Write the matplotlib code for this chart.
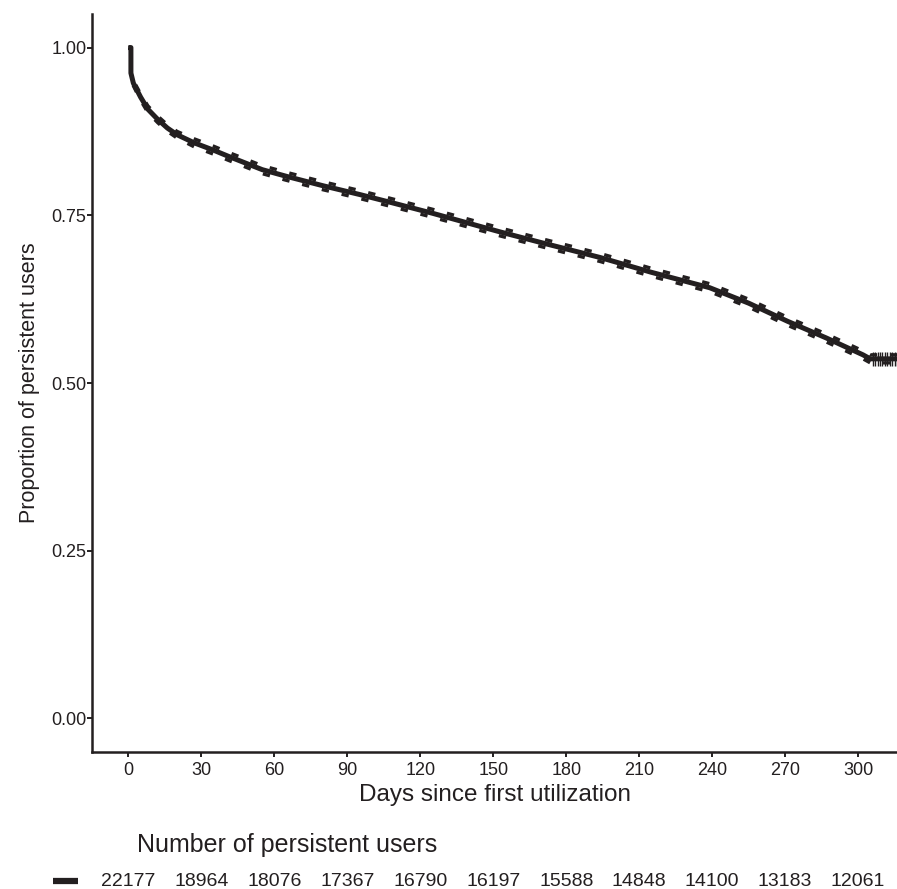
import matplotlib
matplotlib.use("Agg")
import matplotlib.pyplot as plt
from matplotlib import font_manager
from matplotlib.transforms import blended_transform_factory

# kurwa przezycia
days = [0, 1, 1, 2, 5, 8, 12, 16, 20, 27, 35, 41, 48, 55, 65, 80, 95, 108, 125, 140,
        153, 170, 194, 215, 239, 255, 271, 287, 302, 305, 316]
surv = [1.0, 1.0, 0.962, 0.947, 0.926, 0.908, 0.893, 0.880, 0.870, 0.858, 0.847, 0.838,
        0.828, 0.818, 0.808, 0.794, 0.781, 0.769, 0.753, 0.738, 0.725, 0.709, 0.687,
        0.665, 0.642, 0.619, 0.592, 0.567, 0.542, 0.536, 0.536]
ci_upper = [1.0, 1.0, 0.966, 0.951, 0.931, 0.913, 0.898, 0.885, 0.875, 0.864, 0.853, 0.844,
            0.834, 0.824, 0.814, 0.800, 0.787, 0.775, 0.759, 0.744, 0.731, 0.715, 0.693,
            0.671, 0.648, 0.625, 0.598, 0.573, 0.548, 0.542, 0.542]
ci_lower = [1.0, 1.0, 0.958, 0.943, 0.921, 0.903, 0.888, 0.875, 0.865, 0.852, 0.841, 0.832,
            0.822, 0.812, 0.802, 0.788, 0.775, 0.763, 0.747, 0.732, 0.719, 0.703, 0.681,
            0.659, 0.636, 0.613, 0.586, 0.561, 0.536, 0.530, 0.530]

# obserwacje ocenzurowane na koncu
censor_days = [306, 307, 308, 309, 310, 311, 312, 313, 314, 315, 316]
censor_surv = [0.536] * len(censor_days)

# tabela liczby uzytkownikow
risk_days = [0, 30, 60, 90, 120, 150, 180, 210, 240, 270, 300]
risk_counts = [22177, 18964, 18076, 17367, 16790, 16197, 15588, 14848, 14100, 13183, 12061]

y_ticks = [0.0, 0.25, 0.50, 0.75, 1.0]
y_ticklabels = ["0.00", "0.25", "0.50", "0.75", "1.00"]

ink = "#231F20"
names = {f.name for f in font_manager.fontManager.ttflist}
if "Liberation Sans Narrow" in names:
    tick_font, tick_size = "Liberation Sans Narrow", 14
else:
    tick_font, tick_size = "Liberation Sans", 13
plt.rcParams["font.family"] = ["Liberation Sans", "DejaVu Sans"]

fig = plt.figure(figsize=(8.97, 8.89), dpi=100)
ax = fig.add_axes([92 / 897, 1 - 752 / 889, 805 / 897, 738 / 889])

ax.plot(days, surv, color=ink, lw=3.6, solid_capstyle="butt", zorder=3)
ax.plot(days, ci_upper, color=ink, lw=2.4, dashes=(2.2, 3.9), zorder=3)
ax.plot(days, ci_lower, color=ink, lw=2.4, dashes=(2.2, 3.9), zorder=3)
ax.plot(censor_days, censor_surv, ls="none", marker="+", ms=10, mew=1.0, color=ink, zorder=4)

ax.set_xlim(-15, 316)
ax.set_ylim(-0.05, 1.05)
ax.set_xticks(risk_days)
ax.set_yticks(y_ticks)
ax.set_yticklabels(y_ticklabels)

for lab in ax.get_xticklabels() + ax.get_yticklabels():
    lab.set_fontfamily(tick_font)
    lab.set_fontsize(tick_size)
    lab.set_color(ink)

ax.tick_params(length=3.6, width=1.4, color=ink)
ax.tick_params(axis="x", pad=3.5)
ax.tick_params(axis="y", pad=0.5)
for side in ["top", "right"]:
    ax.spines[side].set_visible(False)
for side in ["left", "bottom"]:
    ax.spines[side].set_linewidth(1.8)
    ax.spines[side].set_color(ink)

ax.set_xlabel("Days since first utilization", fontsize=17.5, color=ink, labelpad=4)
ax.set_ylabel("Proportion of persistent users", fontsize=15.5, color=ink, labelpad=8)

# tabela pod wykresem
tr = blended_transform_factory(ax.transData, fig.transFigure)
fig.text(137 / 897, 1 - 852 / 889, "Number of persistent users", fontsize=18,
         color=ink, ha="left", va="baseline")
for d, n in zip(risk_days, risk_counts):
    ax.text(d, 1 - 882 / 889, str(n), transform=tr, fontsize=14, color=ink,
            ha="center", va="center", clip_on=False)
fig.add_artist(plt.Line2D([53 / 897, 78 / 897], [1 - 881 / 889, 1 - 881 / 889],
                          color=ink, lw=4.5, solid_capstyle="butt"))

fig.savefig("out.png", dpi=100)
